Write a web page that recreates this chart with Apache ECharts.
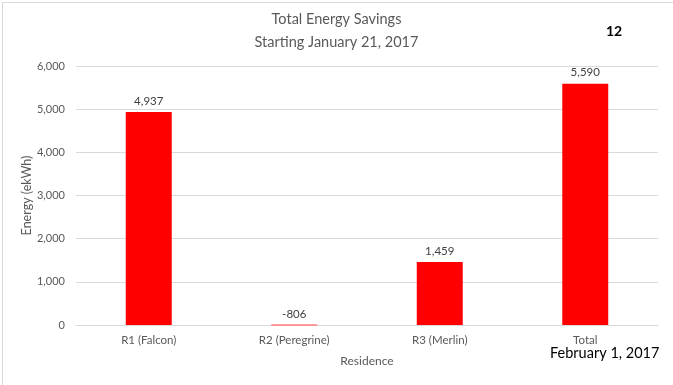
<!DOCTYPE html>
<html>
<head>
<meta charset="utf-8">
<script src="https://cdn.jsdelivr.net/npm/echarts@6/dist/echarts.min.js"></script>
<style>
html,body{margin:0;padding:0;background:#fff;}
#c{width:673px;height:385px;}
</style>
</head>
<body>
<div id="c"></div>
<script>
const categories = ['R1 (Falcon)', 'R2 (Peregrine)', 'R3 (Merlin)', 'Total'];
const savings = [4937, -806, 1459, 5590];
const yTicks = [0, 1000, 2000, 3000, 4000, 5000, 6000];

const FONT = 'Lato';
const chart = echarts.init(document.getElementById('c'), null, {renderer: 'canvas'});
const fmt = v => Number(v).toLocaleString('en-US');

function renderBar(params, api) {
  const i = api.value(0);
  const v = api.value(1);
  const yMin = yTicks[0];
  const base = api.coord([i, yMin]);
  const top = api.coord([i, Math.max(v, yMin)]);
  const bw = api.size([1, 0])[0] * 0.316;
  const children = [];
  if (v > yMin) {
    children.push({
      type: 'rect',
      shape: {x: base[0] - bw / 2, y: top[1], width: bw, height: base[1] - top[1]},
      style: {fill: '#ff0000'}
    });
  } else {
    children.push({
      type: 'line',
      shape: {x1: base[0] - bw / 2, y1: base[1], x2: base[0] + bw / 2, y2: base[1]},
      style: {stroke: '#ff7f7f', lineWidth: 1.5}
    });
  }
  children.push({
    type: 'text',
    style: {
      text: fmt(v),
      x: base[0],
      y: top[1] - 5,
      align: 'center',
      verticalAlign: 'bottom',
      fontFamily: FONT,
      fontSize: 11.5,
      fill: '#404040'
    }
  });
  return {type: 'group', children: children};
}

chart.setOption({
  backgroundColor: '#ffffff',
  animation: false,
  title: {
    text: 'Total Energy Savings\nStarting January 21, 2017',
    left: 'center',
    top: 3,
    textStyle: {fontFamily: FONT, fontSize: 14.5, fontWeight: 'normal', color: '#595959', lineHeight: 23}
  },
  grid: {left: 76, right: 15, top: 66, bottom: 60},
  xAxis: {
    type: 'category',
    data: categories,
    name: 'Residence',
    nameLocation: 'middle',
    nameGap: 30,
    nameMoveOverlap: false,
    nameTextStyle: {fontFamily: FONT, fontSize: 12, color: '#595959'},
    axisLine: {lineStyle: {color: '#d9d9d9', width: 1}},
    axisTick: {show: false},
    axisLabel: {fontFamily: FONT, fontSize: 11.5, color: '#595959', margin: 9}
  },
  yAxis: {
    type: 'value',
    min: yTicks[0],
    max: yTicks[yTicks.length - 1],
    interval: 1000,
    name: 'Energy (ekWh)',
    nameLocation: 'middle',
    nameGap: 43,
    nameMoveOverlap: false,
    nameTextStyle: {fontFamily: FONT, fontSize: 12.5, color: '#595959'},
    axisLine: {show: false},
    axisTick: {show: false},
    splitLine: {lineStyle: {color: '#d9d9d9', width: 1}},
    axisLabel: {fontFamily: FONT, fontSize: 11, color: '#595959', margin: 11, formatter: v => fmt(v)}
  },
  series: [{
    type: 'custom',
    renderItem: renderBar,
    encode: {x: 0, y: 1},
    data: savings.map((v, i) => [i, v]),
    z: 3
  }],
  graphic: [
    {type: 'rect', left: 0, top: 0, shape: {x: 0.5, y: 0.5, width: 671, height: 383}, style: {fill: 'none', stroke: '#d9d9d9', lineWidth: 1}, silent: true},
    {type: 'text', left: 606, top: 24, style: {text: '12', fontFamily: FONT, fontSize: 14, fontWeight: 'bold', fill: '#000000'}},
    {type: 'text', left: 550, top: 346, style: {text: 'February 1, 2017', fontFamily: FONT, fontSize: 14.5, fill: '#000000'}}
  ]
});
</script>
</body>
</html>
